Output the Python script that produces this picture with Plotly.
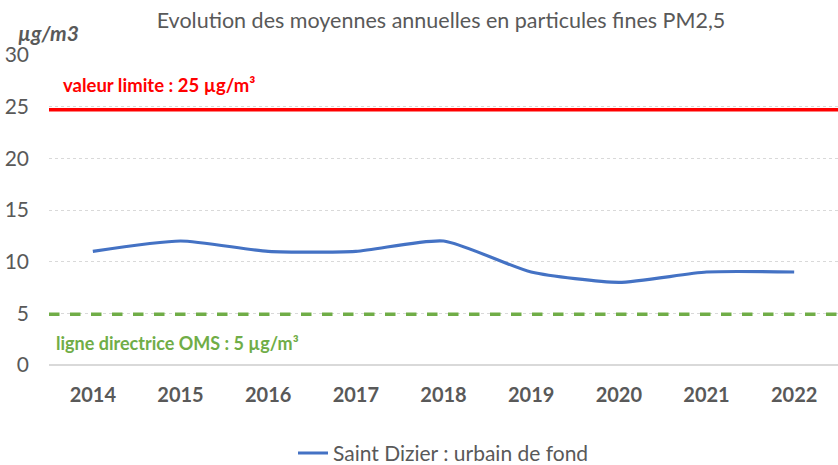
import plotly.graph_objects as go

years = ["2014", "2015", "2016", "2017", "2018", "2019", "2020", "2021", "2022"]
saint_dizier = [11, 12, 11, 11, 12, 9, 8, 9, 9]
valeur_limite = 24.7
ligne_oms = 4.9
y_ticks = [0, 5, 10, 15, 20, 25, 30]

FONT = "Lato"
GRAY = "#595959"

fig = go.Figure()
xs = list(range(len(years)))
fig.add_trace(go.Scatter(
    x=xs, y=saint_dizier, mode="lines", name="Saint Dizier : urbain de fond",
    line=dict(color="#4472C4", width=3.2, shape="spline", smoothing=0.6),
))

fig.add_shape(type="line", xref="x domain", x0=0, x1=1, yref="y", y0=valeur_limite, y1=valeur_limite,
              line=dict(color="#FF0000", width=3.5))
fig.add_shape(type="line", xref="x domain", x0=0, x1=1, yref="y", y0=ligne_oms, y1=ligne_oms,
              line=dict(color="#70AD47", width=3.5, dash="dash"))

fig.add_annotation(text="<b>valeur limite : 25 µg/m³</b>", xref="paper", yref="paper",
                   x=(61 - 49) / 789, y=(365 - 85) / 310, xanchor="left", yanchor="middle",
                   showarrow=False, font=dict(family=FONT, size=18.5, color="#FF0000"))
fig.add_annotation(text="<b>ligne directrice OMS : 5 µg/m³</b>", xref="paper", yref="paper",
                   x=(54 - 49) / 789, y=(365 - 343) / 310, xanchor="left", yanchor="middle",
                   showarrow=False, font=dict(family=FONT, size=18, color="#70AD47"))
fig.add_annotation(text="<b><i>µg/m3</i></b>", xref="paper", yref="paper",
                   x=(16 - 49) / 789, y=(365 - 33) / 310, xanchor="left", yanchor="middle",
                   showarrow=False, font=dict(family=FONT, size=21, color=GRAY))

fig.update_layout(
    width=838, height=465,
    margin=dict(l=49, r=0, t=55, b=100, autoexpand=False),
    paper_bgcolor="white", plot_bgcolor="white",
    font=dict(family=FONT, color=GRAY),
    title=dict(text="Evolution des moyennes annuelles en particules fines PM2,5",
               x=441 / 838, xanchor="center", y=1 - 20 / 465, yanchor="middle",
               font=dict(family=FONT, size=21.5, color=GRAY)),
    showlegend=True,
    legend=dict(orientation="h", x=0.5, xanchor="center", y=-0.285, yanchor="middle",
                font=dict(family=FONT, size=21, color=GRAY)),
    xaxis=dict(range=[-0.5, len(years) - 0.5], tickmode="array", tickvals=xs,
               ticktext=["<b>%s</b>" % y for y in years], showgrid=False, zeroline=False,
               showline=False, ticks="", ticklabelstandoff=16, automargin=False,
               tickfont=dict(family=FONT, size=20, color=GRAY)),
    yaxis=dict(range=[0, 30], tickvals=y_ticks, showgrid=True, gridcolor="#D9D9D9",
               griddash="dot", gridwidth=1, zeroline=True, zerolinecolor="#D9D9D9", zerolinewidth=2,
               ticks="", ticklabelstandoff=19, automargin=False,
               tickfont=dict(family=FONT, size=21, color=GRAY)),
)

fig.write_html("out.html", config={"displayModeBar": False},
               post_script="document.body.style.margin='0';")
